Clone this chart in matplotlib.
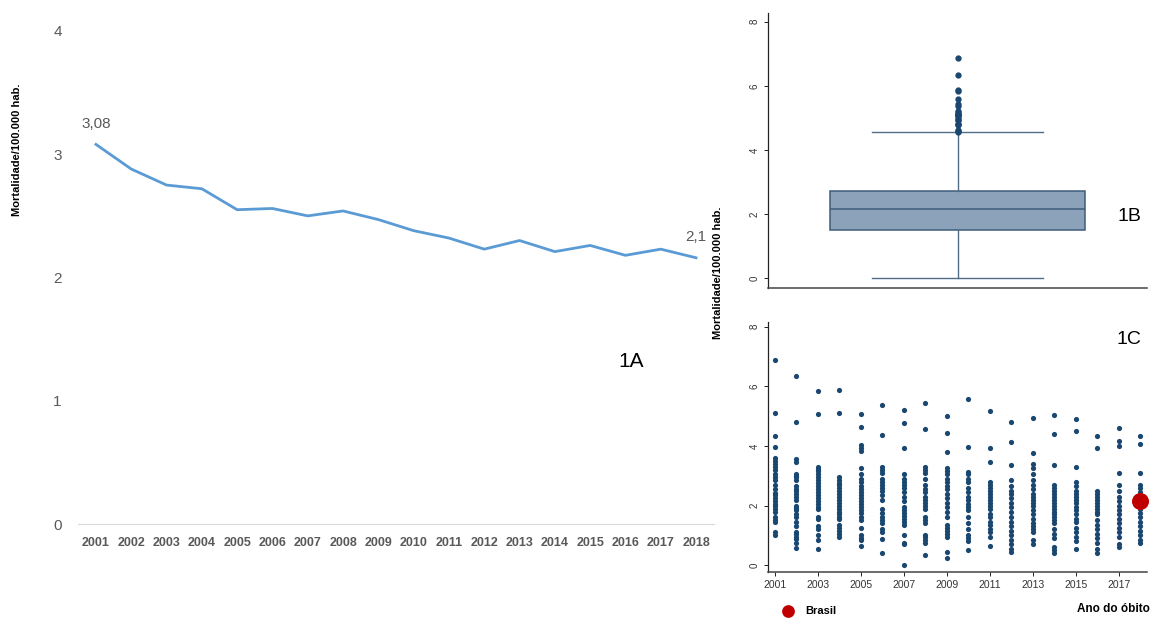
"""Mortalidade por 100.000 hab., Brasil e UFs, 2001-2018 (painéis 1A, 1B, 1C)."""

import matplotlib

matplotlib.use("Agg")
import matplotlib.pyplot as plt  # noqa: E402
from matplotlib.transforms import Bbox, TransformedBbox  # noqa: E402

# --- dados -----------------------------------------------------------------
years = list(range(2001, 2019))
brasil_rate = [3.08, 2.88, 2.75, 2.72, 2.55, 2.56, 2.50, 2.54, 2.47, 2.38,
               2.32, 2.23, 2.30, 2.21, 2.26, 2.18, 2.23, 2.16]

# taxas por UF em cada ano (painel 1C)
rates_2001 = [6.88, 5.11, 4.33, 3.97, 3.58, 3.50, 3.40, 3.30, 3.18, 3.05, 2.95,
              2.85, 2.70, 2.55, 2.42, 2.35, 2.25, 2.15, 2.05, 1.98, 1.88, 1.80,
              1.62, 1.52, 1.45, 1.12, 1.02]
rates_2002 = [6.35, 4.82, 3.55, 3.45, 3.05, 3.00, 2.95, 2.85, 2.65, 2.55, 2.50,
              2.40, 2.30, 2.20, 2.00, 1.92, 1.85, 1.70, 1.60, 1.45, 1.30, 1.10,
              1.05, 0.95, 0.88, 0.75, 0.57]
rates_2003 = [5.83, 5.08, 3.30, 3.22, 3.15, 3.05, 2.95, 2.85, 2.75, 2.65, 2.55,
              2.45, 2.35, 2.25, 2.15, 2.05, 1.95, 1.90, 1.60, 1.55, 1.30, 1.20,
              1.00, 0.85, 0.55]
rates_2004 = [5.88, 5.12, 2.95, 2.85, 2.75, 2.68, 2.60, 2.50, 2.40, 2.30, 2.20,
              2.10, 2.00, 1.90, 1.80, 1.70, 1.62, 1.55, 1.35, 1.25, 1.15, 1.05,
              0.95]
rates_2005 = [5.08, 4.63, 4.02, 3.92, 3.82, 3.25, 3.05, 2.90, 2.80, 2.65, 2.55,
              2.45, 2.35, 2.25, 2.15, 2.05, 1.95, 1.85, 1.75, 1.60, 1.50, 1.25,
              1.00, 0.90, 0.85, 0.63]
rates_2006 = [5.38, 4.38, 3.30, 3.20, 3.10, 2.90, 2.80, 2.70, 2.60, 2.50, 2.35,
              2.20, 1.90, 1.75, 1.60, 1.50, 1.40, 1.20, 1.10, 0.87, 0.41]
rates_2007 = [5.20, 4.77, 3.93, 3.05, 2.90, 2.80, 2.70, 2.60, 2.45, 2.30, 2.15,
              1.95, 1.85, 1.75, 1.65, 1.55, 1.45, 1.35, 1.00, 0.75, 0.72, 0.00]
rates_2008 = [5.43, 4.56, 3.30, 3.20, 3.10, 2.90, 2.70, 2.55, 2.45, 2.30, 2.20,
              2.10, 2.00, 1.90, 1.60, 1.50, 1.40, 1.00, 0.95, 0.85, 0.75, 0.35]
rates_2009 = [5.01, 4.43, 3.79, 3.25, 3.15, 3.05, 2.90, 2.80, 2.65, 2.55, 2.40,
              2.25, 2.10, 1.95, 1.80, 1.60, 1.35, 1.25, 1.15, 1.05, 0.95, 0.45,
              0.23]
rates_2010 = [5.58, 3.95, 3.13, 3.05, 2.90, 2.80, 2.60, 2.45, 2.30, 2.20, 2.05,
              1.95, 1.85, 1.60, 1.40, 1.20, 1.00, 0.90, 0.82, 0.52]
rates_2011 = [5.17, 3.93, 3.45, 2.80, 2.70, 2.60, 2.50, 2.40, 2.30, 2.20, 2.10,
              2.00, 1.90, 1.70, 1.60, 1.45, 1.35, 1.20, 1.10, 0.95, 0.65]
rates_2012 = [4.81, 4.12, 3.35, 2.85, 2.65, 2.50, 2.40, 2.25, 2.10, 1.95, 1.80,
              1.60, 1.45, 1.30, 1.15, 1.00, 0.85, 0.70, 0.55, 0.45]
rates_2013 = [4.93, 3.78, 3.40, 3.25, 3.05, 2.85, 2.70, 2.55, 2.40, 2.30, 2.20,
              2.10, 2.00, 1.85, 1.70, 1.55, 1.40, 1.30, 1.20, 1.10, 0.85, 0.70]
rates_2014 = [5.05, 4.40, 3.35, 2.70, 2.60, 2.50, 2.40, 2.30, 2.20, 2.10, 2.00,
              1.90, 1.80, 1.70, 1.60, 1.50, 1.40, 1.20, 1.05, 0.90, 0.60, 0.50,
              0.40]
rates_2015 = [4.92, 4.50, 3.30, 2.80, 2.65, 2.50, 2.40, 2.30, 2.20, 2.10, 1.95,
              1.85, 1.70, 1.55, 1.45, 1.25, 1.10, 0.95, 0.80, 0.55]
rates_2016 = [4.33, 3.93, 2.50, 2.40, 2.30, 2.20, 2.10, 2.00, 1.90, 1.80, 1.70,
              1.50, 1.35, 1.20, 1.05, 0.90, 0.75, 0.55, 0.42]
rates_2017 = [4.60, 4.15, 4.00, 3.10, 2.70, 2.50, 2.30, 2.15, 2.00, 1.85, 1.70,
              1.55, 1.40, 1.25, 1.10, 0.95, 0.70, 0.60]
rates_2018 = [4.32, 4.08, 3.10, 2.70, 2.60, 2.45, 2.30, 2.05, 1.90, 1.75, 1.60,
              1.45, 1.30, 1.15, 1.00, 0.85, 0.75]
uf_rates = [rates_2001, rates_2002, rates_2003, rates_2004, rates_2005,
            rates_2006, rates_2007, rates_2008, rates_2009, rates_2010,
            rates_2011, rates_2012, rates_2013, rates_2014, rates_2015,
            rates_2016, rates_2017, rates_2018]

# resumo do boxplot (painel 1B)
box_q1, box_median, box_q3 = 1.50, 2.15, 2.72
whisker_low, whisker_high = 0.0, 4.55

# --- layout ----------------------------------------------------------------
W, H = 1159, 618
NAVY = "#1a476f"
GRAY = "#595959"
NARROW = ["Liberation Sans Narrow", "Liberation Sans", "DejaVu Sans"]
ARIAL = ["Liberation Sans", "DejaVu Sans"]


def rect(left, top, right, bottom):
    return [left / W, 1 - bottom / H, (right - left) / W, (bottom - top) / H]


fig = plt.figure(figsize=(W / 100, H / 100), dpi=100)
ax1 = fig.add_axes(rect(78.3, 31, 713.7, 524))
ax2 = fig.add_axes(rect(768.3, 13.3, 1146.7, 288.3))
ax3 = fig.add_axes(rect(768.3, 321.7, 1146.7, 571.7))

# 1A: série nacional
ax1.plot(years, brasil_rate, color="#5b9bd5", linewidth=2.0)
ax1.set_xlim(2000.5, 2018.5)
ax1.set_ylim(0, 4)
ax1.set_xticks(years)
ax1.set_xticklabels([str(y) for y in years], family=NARROW, fontsize=9,
                    color=GRAY, fontweight="bold")
ax1.set_yticks(range(5))
ax1.set_yticklabels([str(v) for v in range(5)], family=NARROW, fontsize=11,
                    color=GRAY)
ax1.tick_params(axis="both", length=0)
ax1.tick_params(axis="x", pad=9)
ax1.tick_params(axis="y", pad=12)
for side in ("top", "right", "left"):
    ax1.spines[side].set_visible(False)
ax1.spines["bottom"].set_color("#d9d9d9")
ax1.annotate(f"{brasil_rate[0]:.2f}".replace(".", ","), (years[0], brasil_rate[0]),
             xytext=(0, 10), textcoords="offset points", ha="center",
             va="bottom", family=NARROW, fontsize=11, color=GRAY)
last = ax1.annotate(f"{brasil_rate[-1]:.2f}".replace(".", ","),
                    (years[-1], brasil_rate[-1]), xytext=(3, 10),
                    textcoords="offset points", ha="center", va="bottom",
                    family=NARROW, fontsize=11, color=GRAY, annotation_clip=False)
last.set_clip_path(None)
last.set_clip_box(TransformedBbox(Bbox([[0, 0], [706 / W, 1]]), fig.transFigure))
last.set_clip_on(True)
ax1.text(0.87, 0.33, "1A", transform=ax1.transAxes, family=NARROW,
         fontsize=15, ha="center", va="center")
fig.text(17 / W, 1 - 150 / H, "Mortalidade/100.000 hab.", rotation=90,
         ha="center", va="center", family=ARIAL, fontweight="bold", fontsize=8)


def stata_axes(ax):
    for side in ("top", "right"):
        ax.spines[side].set_visible(False)
    ax.spines["left"].set_color("#222222")
    ax.spines["bottom"].set_color("#444444")
    ax.spines["left"].set_linewidth(0.9)
    ax.spines["bottom"].set_linewidth(1.1)
    ax.set_yticks([0, 2, 4, 6, 8])
    ax.tick_params(axis="y", labelrotation=90, labelsize=7, length=3,
                   width=0.7, colors="#222222", labelcolor="#333333", pad=3)
    for lbl in ax.get_yticklabels():
        lbl.set_family(ARIAL)
        lbl.set_va("center")


# 1B: boxplot de todas as UFs/anos
fliers = [v for rates in uf_rates for v in rates if v > whisker_high]
stats = [{"q1": box_q1, "med": box_median, "q3": box_q3,
          "whislo": whisker_low, "whishi": whisker_high, "fliers": fliers}]
line_col = "#3d5d7a"
ax2.bxp(stats, positions=[1], widths=1.35, capwidths=0.9, patch_artist=True,
        boxprops=dict(facecolor="#8ba2ba", edgecolor=line_col, linewidth=1.1),
        medianprops=dict(color=line_col, linewidth=1.1),
        whiskerprops=dict(color="#4f6d87", linewidth=1.0),
        capprops=dict(color="#4f6d87", linewidth=1.0),
        flierprops=dict(marker="o", markersize=3.5, markerfacecolor=NAVY,
                        markeredgecolor=NAVY))
ax2.set_xlim(0, 2)
ax2.set_ylim(-0.31, 8.26)
ax2.set_xticks([])
stata_axes(ax2)
ax2.text(0.985, 0.26, "1B", transform=ax2.transAxes, family=ARIAL,
         fontsize=14, ha="right", va="center")

# 1C: dispersão das UFs por ano, Brasil em 2018
for year, rates in zip(years, uf_rates):
    ax3.scatter([year] * len(rates), rates, s=14, color=NAVY, marker="o",
                linewidths=0, zorder=2)
brasil_pt = ax3.scatter([years[-1]], [brasil_rate[-1]], s=150, color="#c00000",
                        zorder=3, clip_on=False, linewidths=0)
ax3.set_xlim(2000.69, 2018.29)
ax3.set_ylim(-0.22, 8.17)
ax3.set_xticks(years[::2])
ax3.tick_params(axis="x", labelsize=7.5, length=3, width=0.7,
                colors="#222222", labelcolor="#333333", pad=3)
for lbl in ax3.get_xticklabels():
    lbl.set_family(ARIAL)
stata_axes(ax3)
ax3.text(0.985, 0.93, "1C", transform=ax3.transAxes, family=ARIAL,
         fontsize=14, ha="right", va="center")

fig.text(718 / W, 1 - 273 / H, "Mortalidade/100.000 hab.", rotation=90,
         ha="center", va="center", family=ARIAL, fontweight="bold", fontsize=8)
fig.legend([brasil_pt], ["Brasil"], loc="center left",
           bbox_to_anchor=(772 / W, 1 - 611 / H), frameon=False,
           prop=dict(family=ARIAL, weight="bold", size=8), handletextpad=0.6,
           borderaxespad=0, markerscale=0.75)
fig.text(1150 / W, 1 - 609 / H, "Ano do óbito", ha="right", va="center",
         family=ARIAL, fontweight="bold", fontsize=8.5)

fig.savefig("out.png", dpi=100)
